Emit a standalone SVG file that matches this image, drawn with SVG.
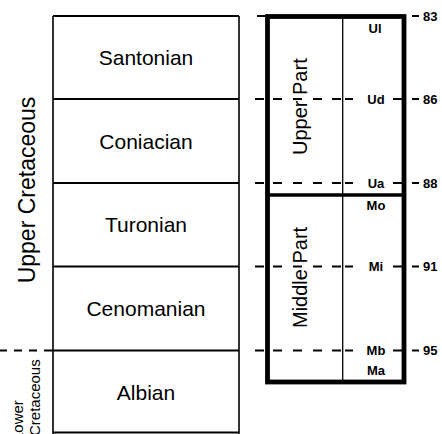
<svg xmlns="http://www.w3.org/2000/svg" width="442" height="434" viewBox="0 0 442 434">
<style>
text{font-family:"Liberation Sans",Arial,sans-serif;fill:#000}
.stage{font-size:21px;text-anchor:middle}
.era{font-size:23px;text-anchor:middle}
.part{font-size:20px}
.sub{font-size:13px;font-weight:bold;text-anchor:middle;dominant-baseline:central}
.num{font-size:13px;font-weight:bold;dominant-baseline:central}
.low{font-size:15px}
.thin{stroke:#000;stroke-width:1.6;fill:none}
.bnd{stroke:#000;stroke-width:2.2;fill:none}
.thick{stroke:#000;stroke-width:4.8;fill:none}
.dash{stroke:#000;stroke-width:2;fill:none}
</style>
<rect width="442" height="434" fill="#fff"/>
<g id="connectors">
<path class="dash" d="M257 16H265 M255 99H264 M273 99H282 M293 99H302 M313 99H322 M332 99H341 M345 99H353 M393 99H402 M255 183H264 M273 183H282 M293 183H302 M313 183H322 M332 183H341 M345 183H353 M393 183H402 M255 266.5H264 M273 266.5H282 M293 266.5H302 M313 266.5H322 M332 266.5H341 M345 266.5H353 M393 266.5H402 M255 350.5H264 M273 350.5H282 M293 350.5H302 M313 350.5H322 M332 350.5H341 M345 350.5H353 M393 350.5H402"/>
<path class="dash" d="M412 16H419 M412 99H419 M412 183H419 M412 266.5H419 M412 350.5H419"/>
<path class="dash" d="M0 350.5H7 M14 350.5H22 M29 350.5H37 M44 350.5H53"/>
</g>
<g id="stages">
<path class="thin" d="M53 16V434 M239 16V434"/>
<path class="bnd" d="M53 16H239 M53 99H239 M53 183H239 M53 266.5H239 M53 350.5H239 M53 432.5H239"/>
</g>
<g id="santonian"><text class="stage" x="146" y="65">Santonian</text></g>
<g id="coniacian"><text class="stage" x="146" y="149">Coniacian</text></g>
<g id="turonian"><text class="stage" x="146" y="232">Turonian</text></g>
<g id="cenomanian"><text class="stage" x="146" y="316">Cenomanian</text></g>
<g id="albian"><text class="stage" x="146" y="400">Albian</text></g>
<g id="upper-cretaceous"><text class="era" transform="translate(35,190) rotate(-90)">Upper Cretaceous</text></g>
<g id="lower-cretaceous">
<text class="low" transform="translate(23,441) rotate(-90)">Lower</text>
<text class="low" transform="translate(40,436) rotate(-90)">Cretaceous</text>
</g>
<g id="zones">
<rect class="thick" x="267.5" y="16.5" width="136.5" height="365.5"/>
<path stroke="#000" stroke-width="3.5" d="M267.5 195H404"/>
<path stroke="#000" stroke-width="1.3" d="M342.7 16.5V382"/>
</g>
<g id="upper-part"><text class="part" transform="translate(307,155) rotate(-90)">Upper Part</text></g>
<g id="middle-part"><text class="part" transform="translate(307,328) rotate(-90)">Middle Part</text></g>
<g id="labels">
<text class="sub" x="375" y="28">Ul</text>
<text class="sub" x="376" y="99">Ud</text>
<text class="sub" x="376" y="183">Ua</text>
<text class="sub" x="376" y="205">Mo</text>
<text class="sub" x="376" y="266.5">Mi</text>
<text class="sub" x="376" y="350.5">Mb</text>
<text class="sub" x="376" y="370">Ma</text>
</g>
<g id="ages">
<text class="num" x="423" y="16">83</text>
<text class="num" x="423" y="99">86</text>
<text class="num" x="423" y="183">88</text>
<text class="num" x="423" y="266.5">91</text>
<text class="num" x="423" y="350.5">95</text>
</g>
</svg>
